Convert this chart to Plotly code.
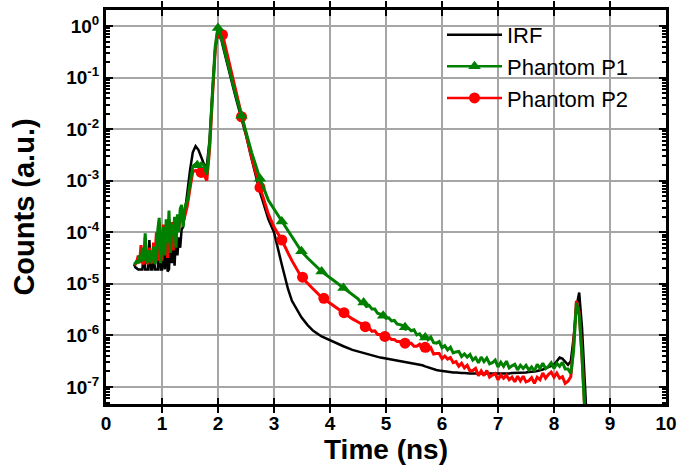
import plotly.graph_objects as go

# ---------------- data ----------------
# common time grid (ns)
TIME = [
    0.500, 0.525, 0.550, 0.575, 0.600, 0.625, 0.650, 0.675, 0.700, 0.725,
    0.750, 0.775, 0.800, 0.825, 0.850, 0.875, 0.900, 0.925, 0.950, 0.975,
    1.000, 1.025, 1.050, 1.075, 1.100, 1.125, 1.150, 1.175, 1.200, 1.225,
    1.250, 1.275, 1.300, 1.325, 1.350, 1.375, 1.400, 1.425, 1.450,
    1.50, 1.55, 1.60, 1.65, 1.70, 1.75, 1.80, 1.85, 1.90, 1.95,
    2.00, 2.05, 2.10, 2.20, 2.30, 2.42, 2.50, 2.60, 2.75, 2.90,
    3.00, 3.14, 3.25, 3.32, 3.49, 3.60, 3.70, 3.85, 4.06, 4.24, 4.40,
    4.50, 4.55, 4.60, 4.65, 4.70, 4.75, 4.80, 4.85, 4.90, 4.95,
    5.00, 5.05, 5.10, 5.15, 5.20, 5.25, 5.30, 5.35, 5.40, 5.45,
    5.50, 5.55, 5.60, 5.65, 5.70, 5.75, 5.80, 5.85, 5.90, 5.95,
    6.00, 6.05, 6.10, 6.15, 6.20, 6.25, 6.30, 6.35, 6.40, 6.45,
    6.50, 6.55, 6.60, 6.65, 6.70, 6.75, 6.80, 6.85, 6.90, 6.95,
    7.00, 7.05, 7.10, 7.15, 7.20, 7.25, 7.30, 7.35, 7.40, 7.45,
    7.50, 7.55, 7.60, 7.65, 7.70, 7.75, 7.80, 7.85, 7.90, 7.95,
    8.00, 8.05, 8.10, 8.15, 8.20, 8.25, 8.30,
    8.35, 8.40, 8.45, 8.50, 8.55, 8.60, 8.65,
]

# log10(counts) of each curve on TIME
IRF_LOG = [
    -4.62, -4.68, -4.70, -4.72, -4.72, -4.72, -4.72, -4.35, -4.72, -4.72,
    -4.72, -4.15, -4.72, -4.72, -4.40, -4.72, -4.72, -4.72, -4.20, -4.72,
    -4.72, -4.30, -4.72, -4.10, -4.76, -4.72, -4.05, -4.60, -4.25, -4.65,
    -4.00, -4.45, -4.10, -4.30, -3.95, -3.90, -3.70, -3.45, -3.30,
    -2.80, -2.45, -2.33, -2.40, -2.55, -2.68, -2.72, -2.20, -1.30, -0.45,
    -0.08, -0.22, -0.45, -0.90, -1.32, -1.80, -2.12, -2.58, -3.22, -3.75,
    -4.00, -4.63, -5.10, -5.33, -5.65, -5.80, -5.91, -6.02, -6.13, -6.21, -6.28,
    -6.31, -6.33, -6.35, -6.36, -6.38, -6.39, -6.40, -6.42, -6.43, -6.44,
    -6.45, -6.45, -6.46, -6.47, -6.48, -6.49, -6.50, -6.51, -6.52, -6.53,
    -6.54, -6.55, -6.57, -6.58, -6.60, -6.62, -6.64, -6.66, -6.67, -6.68,
    -6.69, -6.70, -6.71, -6.71, -6.72, -6.72, -6.73, -6.73, -6.73, -6.74,
    -6.74, -6.74, -6.74, -6.75, -6.75, -6.74, -6.75, -6.74, -6.74, -6.75,
    -6.74, -6.74, -6.75, -6.74, -6.74, -6.73, -6.73, -6.73, -6.72, -6.72,
    -6.72, -6.71, -6.71, -6.70, -6.69, -6.68, -6.66, -6.64, -6.62, -6.60,
    -6.57, -6.50, -6.43, -6.45, -6.52, -6.57, -6.50,
    -6.05, -5.45, -5.17, -5.85, -6.85, -7.90, -9.00,
]

P1_LOG = [
    -4.62, -4.60, -4.55, -4.60, -4.45, -4.58, -4.30, -4.55, -4.02, -4.60,
    -4.55, -4.35, -4.60, -4.40, -4.28, -4.62, -4.50, -3.95, -3.72, -4.60,
    -4.15, -3.90, -4.45, -3.75, -4.20, -3.58, -4.40, -3.85, -4.05, -3.70,
    -4.30, -3.65, -4.00, -3.55, -3.47, -3.90, -3.60, -3.45, -3.40,
    -3.05, -2.72, -2.68, -2.72, -2.66, -2.70, -2.88, -2.30, -1.30, -0.40,
    -0.02, -0.18, -0.40, -0.85, -1.27, -1.74, -2.05, -2.45, -2.96, -3.38,
    -3.55, -3.79, -3.98, -4.10, -4.37, -4.50, -4.60, -4.76, -4.93, -5.08, -5.21,
    -5.29, -5.36, -5.37, -5.44, -5.42, -5.49, -5.49, -5.57, -5.59, -5.59,
    -5.67, -5.66, -5.72, -5.71, -5.78, -5.79, -5.81, -5.88, -5.86, -5.91,
    -5.89, -5.99, -5.97, -6.05, -5.99, -6.08, -6.03, -6.14, -6.15, -6.12,
    -6.24, -6.20, -6.28, -6.23, -6.34, -6.32, -6.31, -6.41, -6.36, -6.42,
    -6.37, -6.48, -6.43, -6.53, -6.42, -6.51, -6.44, -6.55, -6.53, -6.48,
    -6.61, -6.52, -6.60, -6.50, -6.63, -6.59, -6.56, -6.67, -6.58, -6.64,
    -6.58, -6.67, -6.61, -6.69, -6.56, -6.64, -6.54, -6.64, -6.60, -6.53,
    -6.64, -6.54, -6.60, -6.52, -6.65, -6.65, -6.74,
    -6.30, -5.37, -5.60, -6.40, -7.50, -9.00, -9.50,
]

P2_LOG = [
    -4.60, -4.62, -4.58, -4.45, -4.60, -4.25, -4.58, -4.62, -4.10, -4.55,
    -4.62, -4.30, -4.55, -4.60, -4.20, -4.50, -4.00, -4.55, -3.80, -4.30,
    -4.55, -3.85, -4.30, -3.90, -4.50, -3.75, -4.10, -3.80, -4.35, -3.78,
    -4.00, -3.72, -3.95, -3.70, -3.75, -3.80, -3.72, -3.60, -3.50,
    -3.15, -2.82, -2.80, -2.85, -2.82, -2.88, -3.00, -2.40, -1.40, -0.48,
    -0.04, -0.10, -0.25, -0.72, -1.20, -1.76, -2.10, -2.55, -3.13, -3.65,
    -3.90, -4.15, -4.40, -4.55, -4.87, -5.00, -5.10, -5.26, -5.42, -5.56, -5.68,
    -5.74, -5.77, -5.78, -5.87, -5.86, -5.92, -5.91, -5.98, -5.98, -6.00,
    -6.06, -6.04, -6.08, -6.08, -6.12, -6.12, -6.16, -6.13, -6.17, -6.15,
    -6.21, -6.21, -6.17, -6.27, -6.21, -6.29, -6.24, -6.36, -6.35, -6.35,
    -6.45, -6.40, -6.46, -6.43, -6.53, -6.51, -6.60, -6.54, -6.63, -6.58,
    -6.69, -6.68, -6.64, -6.78, -6.69, -6.78, -6.68, -6.81, -6.77, -6.74,
    -6.86, -6.77, -6.83, -6.77, -6.86, -6.81, -6.90, -6.79, -6.88, -6.79,
    -6.90, -6.88, -6.82, -6.93, -6.81, -6.86, -6.73, -6.83, -6.76, -6.71,
    -6.81, -6.73, -6.83, -6.80, -6.93, -6.89, -6.80,
    -6.20, -5.33, -5.55, -6.40, -7.50, -9.00, -9.50,
]

# symbol positions on the two phantom curves
P1_MARK_T = [1.63, 2.00, 2.42, 2.75, 3.14, 3.49, 3.85, 4.24, 4.60, 4.95, 5.34, 5.70]
P1_MARK_LOG = [-2.70, -0.04, -1.74, -2.96, -3.79, -4.37, -4.76, -5.08, -5.36, -5.62, -5.84, -6.04]
P2_MARK_T = [1.70, 2.08, 2.42, 2.75, 3.14, 3.51, 3.89, 4.25, 4.63, 4.98, 5.34, 5.70]
P2_MARK_LOG = [-2.84, -0.17, -1.76, -3.13, -4.15, -4.87, -5.28, -5.56, -5.83, -6.02, -6.15, -6.23]

SERIES_NAMES = ["IRF", "Phantom P1", "Phantom P2"]
X_TICKS = [0, 1, 2, 3, 4, 5, 6, 7, 8, 9, 10]
Y_TICK_EXP = [-7, -6, -5, -4, -3, -2, -1, 0]
Y_TICK_TEXT = ["10<sup>-7</sup>", "10<sup>-6</sup>", "10<sup>-5</sup>", "10<sup>-4</sup>",
               "10<sup>-3</sup>", "10<sup>-2</sup>", "10<sup>-1</sup>", "10<sup>0</sup>"]

# ---------------- figure ----------------
BLACK, GREEN, RED = "#000000", "#008000", "#ff0000"
FONT = "Liberation Sans, Arial, Helvetica, sans-serif"
Y_RANGE = [-7.33, 0.31]


def pw(vals):
    return [10 ** v for v in vals]


fig = go.Figure()

# data curves (drawing order: IRF, P2, P1 on top)
fig.add_trace(go.Scatter(x=TIME, y=pw(IRF_LOG), mode="lines",
                         line=dict(color=BLACK, width=2.5), showlegend=False))
fig.add_trace(go.Scatter(x=TIME, y=pw(P2_LOG), mode="lines",
                         line=dict(color=RED, width=3), showlegend=False))
fig.add_trace(go.Scatter(x=P2_MARK_T, y=pw(P2_MARK_LOG), mode="markers",
                         marker=dict(color=RED, symbol="circle", size=11), showlegend=False))
fig.add_trace(go.Scatter(x=TIME, y=pw(P1_LOG), mode="lines",
                         line=dict(color=GREEN, width=3), showlegend=False))
fig.add_trace(go.Scatter(x=P1_MARK_T, y=pw(P1_MARK_LOG), mode="markers",
                         marker=dict(color=GREEN, symbol="triangle-up", size=11), showlegend=False))

# legend entries (the first one also carries the minor-tick overlay axis on the right)
fig.add_trace(go.Scatter(x=[None], y=[None], mode="lines", name=SERIES_NAMES[0],
                         line=dict(color=BLACK, width=2.5), yaxis="y2"))
fig.add_trace(go.Scatter(x=[None], y=[None], mode="lines+markers", name=SERIES_NAMES[1],
                         line=dict(color=GREEN, width=2.5),
                         marker=dict(color=GREEN, symbol="triangle-up", size=11)))
fig.add_trace(go.Scatter(x=[None], y=[None], mode="lines+markers", name=SERIES_NAMES[2],
                         line=dict(color=RED, width=2.5),
                         marker=dict(color=RED, symbol="circle", size=11)))

# minor tick positions of the log axis (2..9 within each decade)
minor_vals = [m * 10.0 ** e for e in range(-8, 1) for m in range(2, 10)]

fig.update_layout(
    width=694, height=472,
    margin=dict(l=106, r=28, t=7, b=68),
    paper_bgcolor="white", plot_bgcolor="white",
    font=dict(family=FONT, color="black"),
    legend=dict(x=0.60, y=0.99, xanchor="left", yanchor="top",
                bgcolor="rgba(0,0,0,0)", borderwidth=0,
                font=dict(size=22, family=FONT, color="black"),
                itemwidth=55, tracegroupgap=0),
    yaxis2=dict(type="log", range=Y_RANGE, overlaying="y", side="right",
                tickmode="array", tickvals=minor_vals, showticklabels=False,
                ticks="inside", ticklen=4, tickwidth=1.5, tickcolor="black",
                mirror="ticks", showline=False, showgrid=False, zeroline=False,
                automargin=False),
)

fig.update_xaxes(
    range=[0, 10], tickmode="array", tickvals=X_TICKS, automargin=True,
    ticks="inside", ticklen=6, tickwidth=2, tickcolor="black",
    showline=True, linewidth=3, linecolor="black", mirror="allticks",
    showgrid=True, gridcolor="#a6a6a6", gridwidth=1.5, zeroline=False,
    tickfont=dict(size=19, family=FONT, weight="bold"),
    title=dict(text="Time (ns)", font=dict(size=28, family=FONT, weight="bold"), standoff=6),
)

fig.update_layout(yaxis=dict(
    type="log", range=Y_RANGE, automargin=True,
    tickmode="array", tickvals=[10 ** e for e in Y_TICK_EXP], ticktext=Y_TICK_TEXT,
    ticks="inside", ticklen=7, tickwidth=2, tickcolor="black",
    showline=True, linewidth=3, linecolor="black", mirror="allticks",
    showgrid=True, gridcolor="#a6a6a6", gridwidth=1.5, zeroline=False,
    tickfont=dict(size=19, family=FONT, weight="bold"),
    title=dict(text="Counts (a.u.)", font=dict(size=29, family=FONT, weight="bold"), standoff=24),
))

fig.write_html("out.html", config={"displayModeBar": False},
               post_script="document.body.style.margin='0';")
